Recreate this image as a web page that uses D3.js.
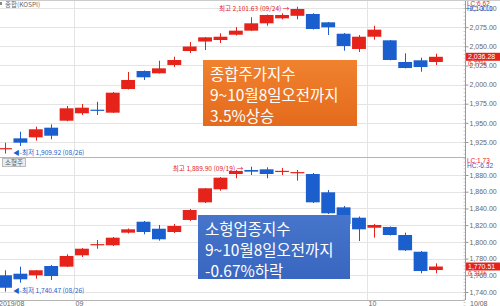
<!DOCTYPE html>
<html>
<head>
<meta charset="utf-8">
<script src="https://cdn.jsdelivr.net/npm/d3@7"></script>
<style>
body { margin: 0; background: #fff; }
svg { display: block; }
</style>
</head>
<body>
<div id="chart"></div>
<script>
// trading days, 2019/08/26 .. 2019/10/08
const dates = ['08/26', '08/27', '08/28', '08/29', '08/30', '09/02', '09/03', '09/04', '09/05', '09/06',
    '09/09', '09/10', '09/11', '09/16', '09/17', '09/18', '09/19', '09/20', '09/23', '09/24',
    '09/25', '09/26', '09/27', '09/30', '10/01', '10/02', '10/04', '10/07', '10/08'];

// KOSPI
const kospiOpen = [1916.3, 1929.8, 1931.1, 1943.7, 1952.8, 1962.5, 1967.2, 1963.3, 1994.2, 2017.7,
    2014.7, 2025.6, 2043.8, 2056.2, 2058.2, 2065.1, 2070.4, 2080.0, 2086.5, 2089.8,
    2092.2, 2081.3, 2066.4, 2046.5, 2062.5, 2057.8, 2029.5, 2031.7, 2029.5];
const kospiHigh = [1924.0, 1938.4, 1945.0, 1948.1, 1972.0, 1974.6, 1977.6, 1990.3, 2016.4, 2018.4,
    2031.2, 2036.4, 2055.6, 2062.1, 2067.0, 2075.2, 2087.9, 2091.5, 2093.1, 2101.63,
    2093.1, 2081.7, 2067.3, 2064.7, 2076.9, 2058.2, 2040.8, 2035.1, 2040.3];
const kospiLow = [1909.92, 1919.8, 1926.7, 1928.5, 1952.0, 1960.3, 1960.3, 1962.9, 1993.6, 2006.0,
    2014.5, 2023.0, 2041.2, 2045.1, 2054.3, 2064.1, 2070.0, 2076.9, 2085.2, 2085.2,
    2071.9, 2064.7, 2044.2, 2042.5, 2058.6, 2031.7, 2021.2, 2016.8, 2025.6];
const kospiClose = [1917.0, 1924.1, 1941.6, 1933.2, 1969.0, 1969.8, 1966.5, 1989.4, 2006.0, 2009.5,
    2021.2, 2032.1, 2049.7, 2061.7, 2062.5, 2070.4, 2080.0, 2090.9, 2090.9, 2098.7,
    2072.6, 2074.8, 2050.4, 2062.5, 2071.7, 2032.1, 2021.6, 2022.9, 2036.28];

// small cap index
const smallOpen = [1760.0, 1761.9, 1760.0, 1771.1, 1770.3, 1783.9, 1796.8, 1795.9, 1811.0, 1824.1,
    1815.7, 1811.8, 1826.2, 1847.3, 1862.9, 1881.2, 1886.0, 1886.8, 1884.5, 1882.8,
    1881.2, 1859.3, 1841.3, 1828.9, 1816.9, 1817.8, 1808.2, 1788.2, 1766.3];
const smallHigh = [1766.0, 1770.3, 1766.3, 1772.3, 1785.1, 1792.6, 1802.2, 1805.8, 1816.0, 1825.0,
    1820.2, 1821.4, 1839.3, 1864.4, 1877.6, 1886.0, 1889.9, 1889.2, 1888.5, 1886.0,
    1882.4, 1862.0, 1842.9, 1830.3, 1821.4, 1818.4, 1811.0, 1789.0, 1774.3];
const smallLow = [1740.47, 1751.1, 1755.9, 1754.4, 1769.9, 1781.9, 1791.8, 1795.0, 1810.0, 1809.0,
    1801.4, 1810.6, 1825.0, 1846.5, 1861.2, 1876.1, 1880.0, 1876.1, 1880.0, 1873.2,
    1846.5, 1833.3, 1819.0, 1801.0, 1805.0, 1807.6, 1789.0, 1762.4, 1762.4];
const smallClose = [1745.1, 1755.2, 1766.0, 1759.1, 1783.1, 1791.8, 1797.3, 1805.0, 1815.0, 1811.8,
    1803.1, 1819.0, 1838.1, 1864.1, 1876.8, 1884.8, 1884.0, 1881.2, 1885.0, 1883.5,
    1847.3, 1834.2, 1821.4, 1815.0, 1820.2, 1808.2, 1789.9, 1765.1, 1770.51];

const kospiTicks = [1925, 1950, 1975, 2000, 2025, 2050, 2075, 2100];
const smallTicks = [1740, 1760, 1780, 1800, 1820, 1840, 1860, 1880];
const monthStarts = ['09/02', '10/01'];
const monthLabels = ['2019/08', '09', '10'];
const lastLabel = '10/08';

const kospiNote = ['종합주가지수', '9~10월8일오전까지', '3.5%상승'];
const smallNote = ['소형업종지수', '9~10월8일오전까지', '-0.67%하락'];

const width = 500;
const height = 306;
const axisX = 465;

const red = '#e5231b';
const blue = '#1b5fce';
const gridColor = '#e4e4e4';
const font = '"Liberation Sans", Arial, sans-serif';
const krFont = '"Noto Sans CJK KR", "Noto Sans", sans-serif';

const svg = d3.select('#chart').append('svg').
    attr('width', width).
    attr('height', height);

const defs = svg.append('defs');
const og = defs.append('linearGradient').attr('id', 'og').attr('x1', 0).attr('y1', 0).attr('x2', 0).attr('y2', 1);
og.append('stop').attr('offset', 0).attr('stop-color', '#f0822e');
og.append('stop').attr('offset', 1).attr('stop-color', '#e46a1c');
const bg = defs.append('linearGradient').attr('id', 'bg').attr('x1', 0).attr('y1', 0).attr('x2', 0).attr('y2', 1);
bg.append('stop').attr('offset', 0).attr('stop-color', '#4675cb');
bg.append('stop').attr('offset', 1).attr('stop-color', '#3966c0');

const xScale = d3.scaleBand().
    domain(dates).
    range([-3.46, 444.4]).
    paddingInner(0.1).
    paddingOuter(0.1);

const cx = (d) => xScale(d) + xScale.bandwidth() / 2;
const step = xScale.step();

const panels = [
    {
        top: 0, bottom: 157,
        y: d3.scaleLinear().domain([1925, 2100]).range([142, 8]),
        ticks: kospiTicks, minor: 5,
        open: kospiOpen, high: kospiHigh, low: kospiLow, close: kospiClose,
        lc: 'LC:6.62', hc: 'HC:-3.11',
        last: '2,036.28', pct: '0.77%',
        hiText: '최고 2,101.63 (09/24) →', loText: '◀-최저 1,909.92 (08/26)',
        title: '종합(KOSPI)'
    },
    {
        top: 157, bottom: 300,
        y: d3.scaleLinear().domain([1740, 1880]).range([292, 175]),
        ticks: smallTicks, minor: 4,
        open: smallOpen, high: smallHigh, low: smallLow, close: smallClose,
        lc: 'LC:1.73', hc: 'HC:-6.32',
        last: '1,770.51', pct: '0.31%',
        hiText: '최고 1,889.90 (09/19) →', loText: '◀-최저 1,740.47 (08/26)',
        title: '소형주'
    }
];

panels.forEach((p) => {
    const g = svg.append('g');
    const y = p.y;

    // horizontal grid
    g.selectAll('line.hgrid').data(p.ticks).enter().append('line').
        attr('x1', 0).attr('x2', axisX).
        attr('y1', (d) => Math.round(y(d)) + 0.5).
        attr('y2', (d) => Math.round(y(d)) + 0.5).
        attr('stroke', gridColor);

    // vertical grid at month starts
    g.selectAll('line.vgrid').data(monthStarts).enter().append('line').
        attr('x1', (d) => Math.round(xScale(d) - step * 0.05) + 0.5).
        attr('x2', (d) => Math.round(xScale(d) - step * 0.05) + 0.5).
        attr('y1', p.top).attr('y2', p.bottom).
        attr('stroke', gridColor);

    const rows = dates.map((d, i) => ({
        date: d, o: p.open[i], h: p.high[i], l: p.low[i], c: p.close[i]
    }));
    const col = (d) => d.c >= d.o ? red : blue;

    const candle = g.selectAll('g.candle').data(rows).enter().append('g');

    candle.append('line').
        attr('x1', (d) => Math.round(cx(d.date)) + 0.5).
        attr('x2', (d) => Math.round(cx(d.date)) + 0.5).
        attr('y1', (d) => y(d.h)).
        attr('y2', (d) => y(d.l)).
        attr('stroke', col);

    candle.append('rect').
        attr('x', (d) => xScale(d.date)).
        attr('width', xScale.bandwidth()).
        attr('y', (d) => y(Math.max(d.o, d.c))).
        attr('height', (d) => Math.max(1.2, Math.abs(y(d.o) - y(d.c)))).
        attr('fill', col);

    // high / low notes
    const hiIdx = d3.maxIndex(p.high);
    const loIdx = d3.minIndex(p.low);
    g.append('text').
        attr('x', cx(dates[hiIdx]) - 8).
        attr('y', y(p.high[hiIdx]) + 4.5).
        attr('text-anchor', 'end').
        attr('fill', red).
        attr('font-size', 6.6).
        attr('font-family', krFont).
        text(p.hiText);
    g.append('text').
        attr('x', cx(dates[loIdx]) + 8).
        attr('y', y(p.low[loIdx]) + 1).
        attr('fill', blue).
        attr('font-size', 6.6).
        attr('font-family', krFont).
        text(p.loText);

    // right axis
    const axis = d3.axisRight(y).
        tickValues(p.ticks).
        tickSize(3).
        tickPadding(1).
        tickFormat(d3.format(',.2f'));

    const minor = d3.axisRight(y).
        tickValues(d3.range(p.ticks[0] - p.minor * 4, y.invert(p.top) + 0.01, p.minor)).
        tickSize(-2).
        tickFormat('');

    const ag = g.append('g').
        attr('transform', `translate(${axisX + 0.5}, 0)`).
        call(axis);
    ag.select('.domain').remove();
    ag.selectAll('line').attr('stroke', '#999');
    ag.selectAll('text').
        attr('fill', '#666').
        attr('font-size', 7).
        attr('font-family', font);

    const mg = g.append('g').
        attr('transform', `translate(${axisX + 0.5}, 0)`).
        call(minor);
    mg.select('.domain').remove();
    mg.selectAll('line').attr('stroke', '#aaa').attr('stroke-width', 0.6);

    g.append('line').
        attr('x1', axisX + 0.5).attr('x2', axisX + 0.5).
        attr('y1', p.top).attr('y2', p.bottom).
        attr('stroke', '#999');

    // current price tag
    const lastY = y(p.close[p.close.length - 1]);
    g.append('rect').
        attr('x', axisX + 1).attr('y', lastY - 4).
        attr('width', width - axisX).attr('height', 8).
        attr('fill', red);
    g.append('text').
        attr('x', axisX + 3).attr('y', lastY + 2.5).
        attr('fill', '#fff').
        attr('font-size', 7).
        attr('font-family', font).
        text(p.last);
    g.append('text').
        attr('x', axisX + 3).attr('y', lastY + 9).
        attr('fill', red).
        attr('font-size', 6.5).
        attr('font-family', font).
        text(p.pct);

    // LC / HC
    g.append('text').
        attr('x', axisX + 2).attr('y', p.top + 5.5).
        attr('fill', red).
        attr('font-size', 6.5).
        attr('font-family', font).
        text(p.lc);
    g.append('text').
        attr('x', axisX + 2).attr('y', p.top + 11).
        attr('fill', blue).
        attr('font-size', 6.5).
        attr('font-family', font).
        text(p.hc);
});

// panel frames
svg.append('line').attr('x1', 0).attr('x2', width).attr('y1', 0.5).attr('y2', 0.5).attr('stroke', '#ccc');
svg.append('line').attr('x1', 0).attr('x2', axisX).attr('y1', 157.5).attr('y2', 157.5).attr('stroke', '#b5b5b5');
svg.append('line').attr('x1', 0).attr('x2', axisX).attr('y1', 300.5).attr('y2', 300.5).attr('stroke', '#b5b5b5');

// panel titles
svg.append('rect').attr('x', 0).attr('y', 2).attr('width', 2).attr('height', 3).attr('fill', '#888');
svg.append('text').
    attr('x', 5).attr('y', 6.5).
    attr('fill', '#666').
    attr('font-size', 6.5).
    attr('font-family', krFont).
    text(panels[0].title);
svg.append('rect').
    attr('x', 2.5).attr('y', 158.5).attr('width', 23).attr('height', 8).
    attr('fill', '#ececec').attr('stroke', '#bbb');
svg.append('text').
    attr('x', 14).attr('y', 165).
    attr('text-anchor', 'middle').
    attr('fill', '#555').
    attr('font-size', 6.5).
    attr('font-family', krFont).
    text(panels[1].title);

// x labels
const xLabelPos = [-1].concat(monthStarts.map((d) => Math.round(xScale(d) - step * 0.05) + 1.5));
svg.selectAll('text.xlab').data(monthLabels).enter().append('text').
    attr('x', (d, i) => xLabelPos[i]).
    attr('y', 306).
    attr('fill', '#666').
    attr('font-size', 7).
    attr('font-family', font).
    text((d) => d);
svg.append('text').
    attr('x', axisX + 5).attr('y', 306).
    attr('fill', '#666').
    attr('font-size', 7).
    attr('font-family', font).
    text(lastLabel);

// callout boxes
const boxes = [
    { x: 203, y: 60, w: 154, h: 66, fill: 'url(#og)', lines: kospiNote },
    { x: 198, y: 215, w: 152, h: 64, fill: 'url(#bg)', lines: smallNote }
];
boxes.forEach((b) => {
    svg.append('rect').
        attr('x', b.x).attr('y', b.y).
        attr('width', b.w).attr('height', b.h).
        attr('fill', b.fill);
    svg.selectAll(null).data(b.lines).enter().append('text').
        attr('x', b.x + 7).
        attr('y', (d, i) => b.y + 20 + i * 21).
        attr('fill', '#fff').
        attr('font-size', 15.5).
        attr('font-family', krFont).
        text((d) => d);
});
</script>
</body>
</html>
